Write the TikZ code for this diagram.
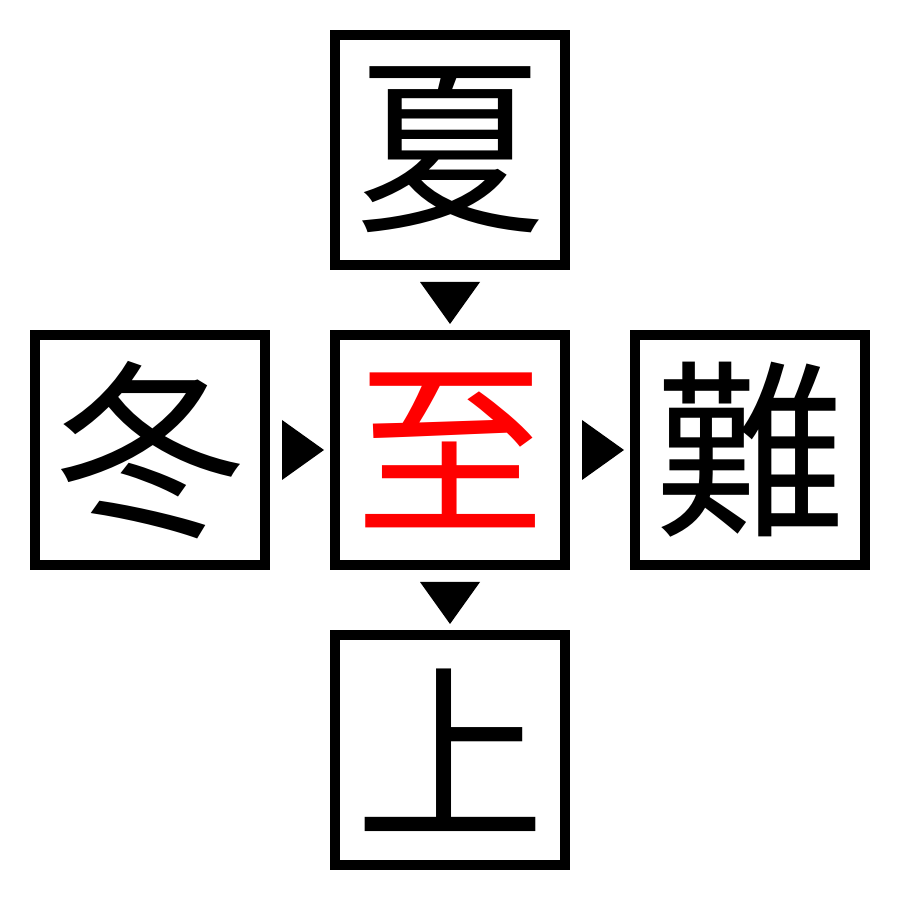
\documentclass[tikz,border=0pt]{standalone}
\usepackage{fontspec}
\newfontfamily\cjk{Noto Sans CJK JP}
\usetikzlibrary{positioning,calc}

\tikzset{
    charbox/.style={draw,line width=0.1cm,minimum size=2.3cm,inner sep=0pt,
        font=\cjk\fontsize{54pt}{54pt}\selectfont},
}

\begin{document}
\begin{tikzpicture}
    \useasboundingbox (0,0) rectangle (9,9);

    \node[charbox,text=red] (zhi) at (4.5,4.5) {至};
    \node[charbox] (xia) at (4.5,7.5) {夏};
    \node[charbox] (dong) at (1.5,4.5) {冬};
    \node[charbox] (nan) at (7.5,4.5) {難};
    \node[charbox] (shang) at (4.5,1.5) {上};

    % triangles between the boxes
    \fill ($(zhi.north)+(0,0.06)$) -- ++(-0.3,0.42) -- ++(0.6,0) -- cycle;
    \fill ($(shang.north)+(0,0.06)$) -- ++(-0.3,0.42) -- ++(0.6,0) -- cycle;
    \fill ($(zhi.west)+(-0.06,0)$) -- ++(-0.42,0.3) -- ++(0,-0.6) -- cycle;
    \fill ($(nan.west)+(-0.06,0)$) -- ++(-0.42,0.3) -- ++(0,-0.6) -- cycle;
\end{tikzpicture}
\end{document}
